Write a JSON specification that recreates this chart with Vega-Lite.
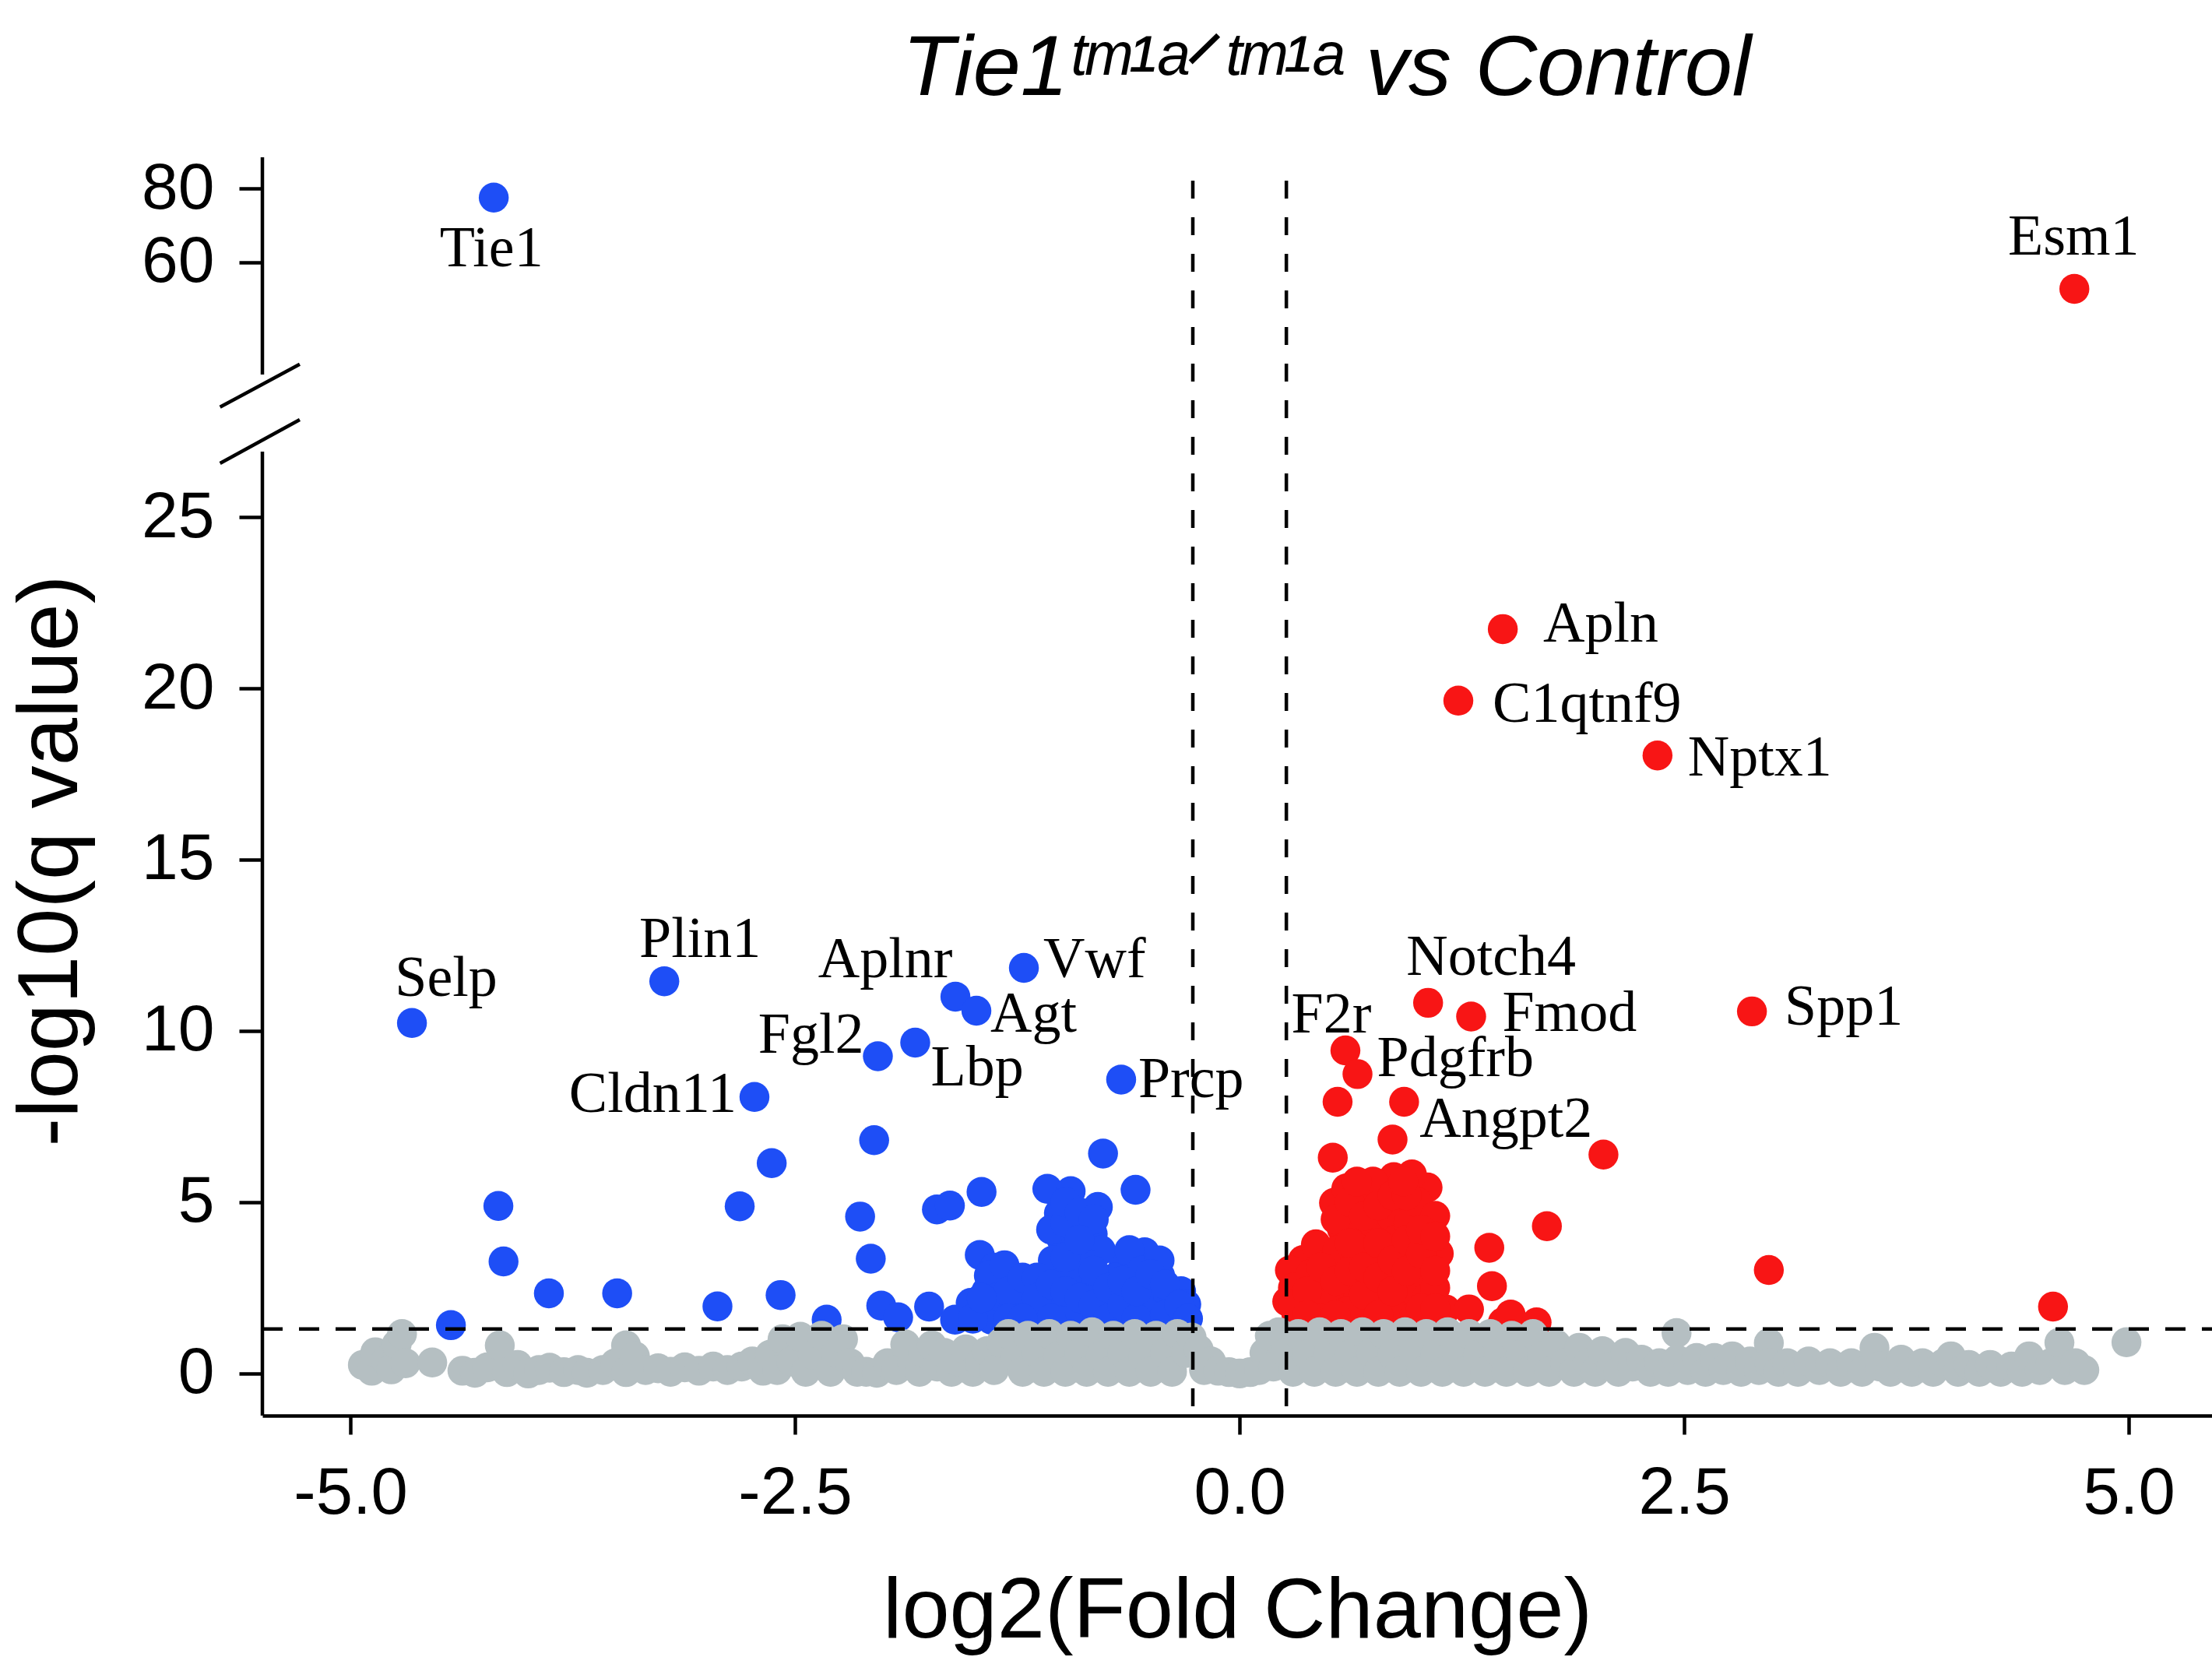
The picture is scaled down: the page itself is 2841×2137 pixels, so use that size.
{
"$schema": "https://vega.github.io/schema/vega-lite/v6.json",
"width": 2504, "height": 1616,
"autosize": {"type": "none"},
"padding": {"left": 337, "top": 202, "right": 0, "bottom": 319},
"background": "white",
"config": {
  "view": {"stroke": null},
  "axis": {"labelFont": "Liberation Sans", "titleFont": "Liberation Sans", "labelColor": "#000", "titleColor": "#000", "tickColor": "#000", "domainColor": "#000", "titleFontWeight": "normal", "labelOverlap": false, "grid": false},
  "text": {"font": "Liberation Serif", "fontSize": 74, "baseline": "middle", "color": "#000"}
},
"title": {"text": "Tie1ᵗᵐ¹ᵃᐟᵗᵐ¹ᵃ vs Control", "font": "Liberation Sans, DejaVu Sans", "fontSize": 110, "fontStyle": "italic", "fontWeight": "normal", "color": "#000", "anchor": "start", "frame": "group", "dx": 822, "dy": 111, "offset": 79, "baseline": "alphabetic"},
"datasets": {"pts": [
{"gene":"Tie1","lfc":-4.194,"nlq":77.6,"status":"down"},
{"gene":"Selp","lfc":-4.654,"nlq":10.23,"status":"down"},
{"gene":"Plin1","lfc":-3.235,"nlq":11.45,"status":"down"},
{"gene":"Aplnr","lfc":-1.598,"nlq":11.0,"status":"down"},
{"gene":"Agt","lfc":-1.48,"nlq":10.59,"status":"down"},
{"gene":"Vwf","lfc":-1.213,"nlq":11.84,"status":"down"},
{"gene":"Fgl2","lfc":-2.034,"nlq":9.26,"status":"down"},
{"gene":"Lbp","lfc":-1.824,"nlq":9.66,"status":"down"},
{"gene":"Cldn11","lfc":-2.728,"nlq":8.07,"status":"down"},
{"gene":"Prcp","lfc":-0.666,"nlq":8.58,"status":"down"},
{"lfc":-4.168,"nlq":4.89,"status":"down"},{"lfc":-4.139,"nlq":3.27,"status":"down"},{"lfc":-3.884,"nlq":2.34,"status":"down"},{"lfc":-3.5,"nlq":2.34,"status":"down"},{"lfc":-4.435,"nlq":1.41,"status":"down"},
{"lfc":-2.055,"nlq":6.81,"status":"down"},{"lfc":-2.631,"nlq":6.14,"status":"down"},{"lfc":-2.811,"nlq":4.88,"status":"down"},{"lfc":-2.134,"nlq":4.58,"status":"down"},{"lfc":-1.702,"nlq":4.79,"status":"down"},{"lfc":-1.629,"nlq":4.9,"status":"down"},{"lfc":-1.451,"nlq":5.3,"status":"down"},{"lfc":-2.074,"nlq":3.35,"status":"down"},{"lfc":-1.461,"nlq":3.46,"status":"down"},{"lfc":-1.38,"nlq":3.09,"status":"down"},{"lfc":-2.936,"nlq":1.96,"status":"down"},{"lfc":-2.581,"nlq":2.29,"status":"down"},{"lfc":-2.322,"nlq":1.57,"status":"down"},{"lfc":-2.015,"nlq":1.98,"status":"down"},{"lfc":-1.92,"nlq":1.64,"status":"down"},{"lfc":-1.746,"nlq":1.95,"status":"down"},{"lfc":-1.6,"nlq":1.57,"status":"down"},{"lfc":-1.512,"nlq":2.06,"status":"down"},{"lfc":-1.424,"nlq":2.4,"status":"down"},{"lfc":-1.395,"nlq":1.57,"status":"down"},{"lfc":-1.41,"nlq":2.86,"status":"down"},{"lfc":-1.35,"nlq":2.25,"status":"down"},
{"lfc":-0.768,"nlq":6.42,"status":"down"},{"lfc":-0.585,"nlq":5.36,"status":"down"},{"lfc":-1.081,"nlq":5.39,"status":"down"},{"lfc":-0.95,"nlq":5.32,"status":"down"},{"lfc":-0.797,"nlq":4.86,"status":"down"},{"lfc":-1.016,"nlq":4.68,"status":"down"},{"lfc":-1.001,"nlq":3.92,"status":"down"},{"lfc":-0.826,"nlq":4.07,"status":"down"},{"lfc":-1.322,"nlq":3.16,"status":"down"},{"lfc":-0.534,"nlq":3.54,"status":"down"},{"lfc":-0.447,"nlq":2.86,"status":"down"},{"lfc":-0.651,"nlq":3.23,"status":"down"},{"lfc":-0.884,"nlq":2.86,"status":"down"},{"lfc":-0.972,"nlq":2.7,"status":"down"},{"lfc":-1.235,"nlq":2.55,"status":"down"},{"lfc":-1.103,"nlq":2.33,"status":"down"},{"lfc":-0.329,"nlq":2.4,"status":"down"},{"lfc":-0.3,"nlq":2.02,"status":"down"},{"lfc":-0.738,"nlq":2.25,"status":"down"},{"lfc":-0.563,"nlq":2.1,"status":"down"},{"lfc":-0.447,"nlq":1.95,"status":"down"},{"lfc":-1.16,"nlq":1.72,"status":"down"},{"lfc":-0.884,"nlq":1.8,"status":"down"},{"lfc":-0.636,"nlq":1.64,"status":"down"},{"lfc":-0.3,"nlq":1.64,"status":"down"},{"lfc":-1.28,"nlq":1.8,"status":"down"},
{"lfc":-1.05,"nlq":3.3,"status":"down"},{"lfc":-0.92,"nlq":3.5,"status":"down"},{"lfc":-0.88,"nlq":4.3,"status":"down"},{"lfc":-0.78,"nlq":3.6,"status":"down"},{"lfc":-0.7,"nlq":2.8,"status":"down"},{"lfc":-0.6,"nlq":2.6,"status":"down"},{"lfc":-0.5,"nlq":2.3,"status":"down"},{"lfc":-0.4,"nlq":2.2,"status":"down"},{"lfc":-0.36,"nlq":1.8,"status":"down"},{"lfc":-1.2,"nlq":2.2,"status":"down"},{"lfc":-1.0,"nlq":2.0,"status":"down"},{"lfc":-0.8,"nlq":2.4,"status":"down"},{"lfc":-0.7,"nlq":1.9,"status":"down"},{"lfc":-0.5,"nlq":1.7,"status":"down"},{"lfc":-1.06,"nlq":4.2,"status":"down"},{"lfc":-0.92,"nlq":4.0,"status":"down"},{"lfc":-0.86,"nlq":3.2,"status":"down"},{"lfc":-0.62,"nlq":3.6,"status":"down"},{"lfc":-0.55,"nlq":3.0,"status":"down"},{"lfc":-0.45,"nlq":3.3,"status":"down"},{"lfc":-1.25,"nlq":2.0,"status":"down"},{"lfc":-0.95,"nlq":1.6,"status":"down"},{"lfc":-0.8,"nlq":1.6,"status":"down"},{"lfc":-0.4,"nlq":1.5,"status":"down"},{"lfc":-1.1,"nlq":1.6,"status":"down"},{"lfc":-1.3,"nlq":2.4,"status":"down"},
{"lfc":-1.5,"nlq":1.6,"status":"down"},{"lfc":-1.45,"nlq":2.2,"status":"down"},{"lfc":-1.3,"nlq":1.6,"status":"down"},{"lfc":-1.22,"nlq":2.8,"status":"down"},{"lfc":-1.14,"nlq":2.8,"status":"down"},{"lfc":-1.14,"nlq":2.2,"status":"down"},{"lfc":-1.06,"nlq":1.6,"status":"down"},{"lfc":-1.06,"nlq":2.6,"status":"down"},{"lfc":-0.98,"nlq":2.4,"status":"down"},{"lfc":-0.98,"nlq":3.4,"status":"down"},{"lfc":-0.98,"nlq":4.4,"status":"down"},{"lfc":-0.98,"nlq":5.0,"status":"down"},{"lfc":-0.9,"nlq":2.2,"status":"down"},{"lfc":-0.9,"nlq":4.7,"status":"down"},{"lfc":-0.82,"nlq":2.0,"status":"down"},{"lfc":-0.82,"nlq":3.0,"status":"down"},{"lfc":-0.82,"nlq":4.5,"status":"down"},{"lfc":-0.74,"nlq":1.6,"status":"down"},{"lfc":-0.74,"nlq":2.5,"status":"down"},{"lfc":-0.66,"nlq":2.0,"status":"down"},{"lfc":-0.66,"nlq":2.7,"status":"down"},{"lfc":-0.58,"nlq":1.6,"status":"down"},{"lfc":-0.58,"nlq":2.4,"status":"down"},{"lfc":-0.5,"nlq":2.9,"status":"down"},{"lfc":-0.42,"nlq":1.7,"status":"down"},{"lfc":-0.42,"nlq":2.6,"status":"down"},{"lfc":-0.34,"nlq":2.0,"status":"down"},{"lfc":-0.29,"nlq":1.6,"status":"down"},{"lfc":-1.22,"nlq":1.6,"status":"down"},{"lfc":-0.9,"nlq":3.9,"status":"down"},
{"gene":"Esm1","lfc":4.694,"nlq":52.69,"status":"up"},
{"gene":"Apln","lfc":1.48,"nlq":21.73,"status":"up"},
{"gene":"C1qtnf9","lfc":1.23,"nlq":19.64,"status":"up"},
{"gene":"Nptx1","lfc":2.35,"nlq":18.04,"status":"up"},
{"gene":"Notch4","lfc":1.06,"nlq":10.82,"status":"up"},
{"gene":"Fmod","lfc":1.302,"nlq":10.42,"status":"up"},
{"gene":"Spp1","lfc":2.881,"nlq":10.57,"status":"up"},
{"gene":"F2r","lfc":0.595,"nlq":9.43,"status":"up"},
{"gene":"Pdgfrb","lfc":0.663,"nlq":8.74,"status":"up"},
{"gene":"Angpt2","lfc":0.925,"nlq":7.93,"status":"up"},
{"lfc":0.551,"nlq":7.93,"status":"up"},{"lfc":0.524,"nlq":6.3,"status":"up"},{"lfc":0.86,"nlq":6.83,"status":"up"},{"lfc":2.046,"nlq":6.39,"status":"up"},{"lfc":1.728,"nlq":4.3,"status":"up"},{"lfc":1.404,"nlq":3.67,"status":"up"},{"lfc":1.419,"nlq":2.55,"status":"up"},{"lfc":2.976,"nlq":3.02,"status":"up"},{"lfc":4.574,"nlq":1.95,"status":"up"},
{"lfc":0.531,"nlq":4.98,"status":"up"},{"lfc":0.356,"nlq":3.31,"status":"up"},{"lfc":0.283,"nlq":3.01,"status":"up"},{"lfc":0.268,"nlq":2.1,"status":"up"},{"lfc":0.429,"nlq":3.77,"status":"up"},{"lfc":0.575,"nlq":4.22,"status":"up"},{"lfc":0.721,"nlq":5.28,"status":"up"},{"lfc":0.473,"nlq":2.7,"status":"up"},{"lfc":0.62,"nlq":2.25,"status":"up"},{"lfc":0.429,"nlq":1.95,"status":"up"},{"lfc":0.721,"nlq":2.7,"status":"up"},{"lfc":1.042,"nlq":3.05,"status":"up"},{"lfc":1.057,"nlq":5.43,"status":"up"},{"lfc":0.969,"nlq":5.81,"status":"up"},{"lfc":0.867,"nlq":5.73,"status":"up"},{"lfc":1.027,"nlq":4.67,"status":"up"},{"lfc":1.071,"nlq":3.99,"status":"up"},{"lfc":0.925,"nlq":2.33,"status":"up"},{"lfc":0.93,"nlq":1.95,"status":"up"},{"lfc":1.159,"nlq":1.87,"status":"up"},{"lfc":1.29,"nlq":1.87,"status":"up"},{"lfc":1.48,"nlq":1.49,"status":"up"},{"lfc":1.524,"nlq":1.72,"status":"up"},{"lfc":1.67,"nlq":1.49,"status":"up"},
{"lfc":0.3,"nlq":2.5,"status":"up"},{"lfc":0.35,"nlq":2.0,"status":"up"},{"lfc":0.4,"nlq":2.9,"status":"up"},{"lfc":0.5,"nlq":3.2,"status":"up"},{"lfc":0.5,"nlq":2.3,"status":"up"},{"lfc":0.55,"nlq":3.6,"status":"up"},{"lfc":0.6,"nlq":1.8,"status":"up"},{"lfc":0.65,"nlq":3.3,"status":"up"},{"lfc":0.65,"nlq":4.5,"status":"up"},{"lfc":0.7,"nlq":3.8,"status":"up"},{"lfc":0.75,"nlq":4.4,"status":"up"},{"lfc":0.78,"nlq":2.2,"status":"up"},{"lfc":0.8,"nlq":5.0,"status":"up"},{"lfc":0.8,"nlq":3.3,"status":"up"},{"lfc":0.85,"nlq":1.9,"status":"up"},{"lfc":0.85,"nlq":4.6,"status":"up"},{"lfc":0.88,"nlq":3.9,"status":"up"},{"lfc":0.9,"nlq":2.8,"status":"up"},{"lfc":0.95,"nlq":3.5,"status":"up"},{"lfc":0.95,"nlq":4.4,"status":"up"},{"lfc":1.0,"nlq":2.6,"status":"up"},{"lfc":1.0,"nlq":5.0,"status":"up"},{"lfc":1.05,"nlq":2.2,"status":"up"},{"lfc":1.08,"nlq":1.7,"status":"up"},{"lfc":0.7,"nlq":1.6,"status":"up"},{"lfc":0.45,"nlq":1.6,"status":"up"},{"lfc":0.32,"nlq":1.7,"status":"up"},{"lfc":0.98,"nlq":1.65,"status":"up"},{"lfc":0.6,"nlq":5.4,"status":"up"},{"lfc":0.75,"nlq":5.6,"status":"up"},{"lfc":1.1,"nlq":4.6,"status":"up"},{"lfc":1.12,"nlq":3.5,"status":"up"},{"lfc":1.1,"nlq":2.5,"status":"up"},
{"lfc":0.3,"nlq":2.0,"status":"up"},{"lfc":0.38,"nlq":2.4,"status":"up"},{"lfc":0.38,"nlq":1.7,"status":"up"},{"lfc":0.46,"nlq":3.1,"status":"up"},{"lfc":0.54,"nlq":1.7,"status":"up"},{"lfc":0.54,"nlq":2.7,"status":"up"},{"lfc":0.54,"nlq":4.5,"status":"up"},{"lfc":0.62,"nlq":3.0,"status":"up"},{"lfc":0.62,"nlq":3.8,"status":"up"},{"lfc":0.62,"nlq":5.0,"status":"up"},{"lfc":0.7,"nlq":2.3,"status":"up"},{"lfc":0.7,"nlq":3.1,"status":"up"},{"lfc":0.7,"nlq":4.6,"status":"up"},{"lfc":0.78,"nlq":1.7,"status":"up"},{"lfc":0.78,"nlq":2.8,"status":"up"},{"lfc":0.78,"nlq":3.8,"status":"up"},{"lfc":0.78,"nlq":4.9,"status":"up"},{"lfc":0.86,"nlq":2.4,"status":"up"},{"lfc":0.86,"nlq":3.3,"status":"up"},{"lfc":0.86,"nlq":5.2,"status":"up"},{"lfc":0.94,"nlq":3.0,"status":"up"},{"lfc":0.94,"nlq":3.9,"status":"up"},{"lfc":0.94,"nlq":5.2,"status":"up"},{"lfc":1.02,"nlq":1.9,"status":"up"},{"lfc":1.02,"nlq":3.5,"status":"up"},{"lfc":1.02,"nlq":4.2,"status":"up"},{"lfc":1.1,"nlq":1.9,"status":"up"},{"lfc":1.1,"nlq":3.0,"status":"up"},{"lfc":1.1,"nlq":4.0,"status":"up"},{"lfc":0.66,"nlq":5.6,"status":"up"},{"lfc":0.92,"nlq":5.6,"status":"up"},
{"lfc":-4.93,"nlq":0.25,"status":"ns"},{"lfc":-4.88,"nlq":0.08,"status":"ns"},{"lfc":-4.86,"nlq":0.62,"status":"ns"},{"lfc":-4.8,"nlq":0.38,"status":"ns"},{"lfc":-4.77,"nlq":0.12,"status":"ns"},{"lfc":-4.74,"nlq":0.85,"status":"ns"},{"lfc":-4.71,"nlq":1.15,"status":"ns"},{"lfc":-4.69,"nlq":0.3,"status":"ns"},{"lfc":-4.54,"nlq":0.32,"status":"ns"},{"lfc":-4.37,"nlq":0.08,"status":"ns"},{"lfc":-4.3,"nlq":0.02,"status":"ns"},{"lfc":-4.23,"nlq":0.18,"status":"ns"},{"lfc":-4.16,"nlq":0.82,"status":"ns"},{"lfc":-4.12,"nlq":0.04,"status":"ns"},{"lfc":-4.06,"nlq":0.25,"status":"ns"},{"lfc":-4.0,"nlq":0.0,"status":"ns"},{"lfc":-3.94,"nlq":0.1,"status":"ns"},{"lfc":-3.88,"nlq":0.17,"status":"ns"},{"lfc":-3.8,"nlq":0.04,"status":"ns"},{"lfc":-3.72,"nlq":0.1,"status":"ns"},{"lfc":-3.67,"nlq":0.02,"status":"ns"},{"lfc":-3.58,"nlq":0.1,"status":"ns"},{"lfc":-3.51,"nlq":0.3,"status":"ns"},{"lfc":-3.45,"nlq":0.82,"status":"ns"},{"lfc":-3.45,"nlq":0.04,"status":"ns"},{"lfc":-3.4,"nlq":0.5,"status":"ns"},{"lfc":-3.34,"nlq":0.1,"status":"ns"},{"lfc":-3.27,"nlq":0.15,"status":"ns"},{"lfc":-3.2,"nlq":0.05,"status":"ns"},{"lfc":-3.12,"nlq":0.18,"status":"ns"},{"lfc":-3.04,"nlq":0.08,"status":"ns"},{"lfc":-2.96,"nlq":0.2,"status":"ns"},{"lfc":-2.88,"nlq":0.1,"status":"ns"},{"lfc":-2.8,"nlq":0.2,"status":"ns"},{"lfc":-2.74,"nlq":0.35,"status":"ns"},{"lfc":-2.68,"nlq":0.08,"status":"ns"},
{"lfc":-2.64,"nlq":0.55,"status":"ns"},{"lfc":-2.6,"nlq":0.1,"status":"ns"},{"lfc":-2.57,"nlq":1.0,"status":"ns"},{"lfc":-2.52,"nlq":0.35,"status":"ns"},{"lfc":-2.47,"nlq":1.07,"status":"ns"},{"lfc":-2.44,"nlq":0.05,"status":"ns"},{"lfc":-2.4,"nlq":0.55,"status":"ns"},{"lfc":-2.35,"nlq":1.1,"status":"ns"},{"lfc":-2.3,"nlq":0.05,"status":"ns"},{"lfc":-2.27,"nlq":0.6,"status":"ns"},{"lfc":-2.23,"nlq":1.0,"status":"ns"},{"lfc":-2.19,"nlq":0.3,"status":"ns"},{"lfc":-2.15,"nlq":0.05,"status":"ns"},{"lfc":-2.1,"nlq":0.05,"status":"ns"},{"lfc":-2.04,"nlq":0.02,"status":"ns"},{"lfc":-1.98,"nlq":0.3,"status":"ns"},{"lfc":-1.93,"nlq":0.1,"status":"ns"},{"lfc":-1.88,"nlq":0.85,"status":"ns"},{"lfc":-1.84,"nlq":0.3,"status":"ns"},{"lfc":-1.8,"nlq":0.05,"status":"ns"},{"lfc":-1.78,"nlq":0.6,"status":"ns"},{"lfc":-1.73,"nlq":0.82,"status":"ns"},{"lfc":-1.7,"nlq":0.2,"status":"ns"},{"lfc":-1.66,"nlq":0.6,"status":"ns"},{"lfc":-1.62,"nlq":0.05,"status":"ns"},{"lfc":-1.58,"nlq":0.35,"status":"ns"},{"lfc":-1.54,"nlq":0.7,"status":"ns"},{"lfc":-1.5,"nlq":0.05,"status":"ns"},{"lfc":-1.46,"nlq":0.3,"status":"ns"},{"lfc":-1.42,"nlq":0.65,"status":"ns"},{"lfc":-1.38,"nlq":0.1,"status":"ns"},
{"lfc":-1.34,"nlq":0.9,"status":"ns"},{"lfc":-1.3,"nlq":1.15,"status":"ns"},{"lfc":-1.26,"nlq":0.5,"status":"ns"},{"lfc":-1.22,"nlq":0.05,"status":"ns"},{"lfc":-1.19,"nlq":1.1,"status":"ns"},{"lfc":-1.14,"nlq":0.6,"status":"ns"},{"lfc":-1.1,"nlq":0.05,"status":"ns"},{"lfc":-1.07,"nlq":1.15,"status":"ns"},{"lfc":-1.02,"nlq":0.5,"status":"ns"},{"lfc":-0.98,"nlq":0.05,"status":"ns"},{"lfc":-0.95,"nlq":1.1,"status":"ns"},{"lfc":-0.9,"nlq":0.6,"status":"ns"},{"lfc":-0.86,"nlq":0.05,"status":"ns"},{"lfc":-0.83,"nlq":1.2,"status":"ns"},{"lfc":-0.78,"nlq":0.5,"status":"ns"},{"lfc":-0.74,"nlq":0.05,"status":"ns"},{"lfc":-0.71,"nlq":1.1,"status":"ns"},{"lfc":-0.66,"nlq":0.6,"status":"ns"},{"lfc":-0.62,"nlq":0.05,"status":"ns"},{"lfc":-0.59,"nlq":1.15,"status":"ns"},{"lfc":-0.54,"nlq":0.5,"status":"ns"},{"lfc":-0.5,"nlq":0.05,"status":"ns"},{"lfc":-0.47,"nlq":1.1,"status":"ns"},{"lfc":-0.42,"nlq":0.6,"status":"ns"},{"lfc":-0.38,"nlq":0.05,"status":"ns"},{"lfc":-0.35,"nlq":1.15,"status":"ns"},{"lfc":-0.3,"nlq":0.6,"status":"ns"},{"lfc":-0.27,"nlq":1.05,"status":"ns"},
{"lfc":-0.23,"nlq":0.7,"status":"ns"},{"lfc":-0.2,"nlq":0.1,"status":"ns"},{"lfc":-0.16,"nlq":0.35,"status":"ns"},{"lfc":-0.12,"nlq":0.08,"status":"ns"},{"lfc":-0.06,"nlq":0.04,"status":"ns"},{"lfc":0.0,"nlq":0.0,"status":"ns"},{"lfc":0.06,"nlq":0.04,"status":"ns"},{"lfc":0.11,"nlq":0.1,"status":"ns"},{"lfc":0.14,"nlq":0.6,"status":"ns"},{"lfc":0.17,"nlq":1.1,"status":"ns"},{"lfc":0.19,"nlq":0.2,"status":"ns"},
{"lfc":0.22,"nlq":1.2,"status":"ns"},{"lfc":0.26,"nlq":0.6,"status":"ns"},{"lfc":0.3,"nlq":0.05,"status":"ns"},{"lfc":0.33,"nlq":1.15,"status":"ns"},{"lfc":0.38,"nlq":0.55,"status":"ns"},{"lfc":0.42,"nlq":0.05,"status":"ns"},{"lfc":0.45,"nlq":1.2,"status":"ns"},{"lfc":0.5,"nlq":0.6,"status":"ns"},{"lfc":0.54,"nlq":0.05,"status":"ns"},{"lfc":0.57,"nlq":1.15,"status":"ns"},{"lfc":0.62,"nlq":0.55,"status":"ns"},{"lfc":0.66,"nlq":0.05,"status":"ns"},{"lfc":0.69,"nlq":1.2,"status":"ns"},{"lfc":0.74,"nlq":0.6,"status":"ns"},{"lfc":0.78,"nlq":0.05,"status":"ns"},{"lfc":0.81,"nlq":1.15,"status":"ns"},{"lfc":0.86,"nlq":0.55,"status":"ns"},{"lfc":0.9,"nlq":0.05,"status":"ns"},{"lfc":0.93,"nlq":1.2,"status":"ns"},{"lfc":0.98,"nlq":0.6,"status":"ns"},{"lfc":1.02,"nlq":0.05,"status":"ns"},{"lfc":1.05,"nlq":1.15,"status":"ns"},{"lfc":1.1,"nlq":0.55,"status":"ns"},{"lfc":1.14,"nlq":0.05,"status":"ns"},{"lfc":1.17,"nlq":1.2,"status":"ns"},{"lfc":1.22,"nlq":0.6,"status":"ns"},{"lfc":1.26,"nlq":0.05,"status":"ns"},{"lfc":1.29,"nlq":1.15,"status":"ns"},{"lfc":1.34,"nlq":0.55,"status":"ns"},{"lfc":1.38,"nlq":0.05,"status":"ns"},{"lfc":1.41,"nlq":1.15,"status":"ns"},{"lfc":1.46,"nlq":0.6,"status":"ns"},{"lfc":1.5,"nlq":0.05,"status":"ns"},{"lfc":1.53,"nlq":1.1,"status":"ns"},{"lfc":1.58,"nlq":0.55,"status":"ns"},{"lfc":1.62,"nlq":0.05,"status":"ns"},{"lfc":1.65,"nlq":1.15,"status":"ns"},{"lfc":1.7,"nlq":0.5,"status":"ns"},{"lfc":1.74,"nlq":0.05,"status":"ns"},
{"lfc":1.78,"nlq":0.85,"status":"ns"},{"lfc":1.83,"nlq":0.3,"status":"ns"},{"lfc":1.88,"nlq":0.05,"status":"ns"},{"lfc":1.91,"nlq":0.75,"status":"ns"},{"lfc":1.96,"nlq":0.3,"status":"ns"},{"lfc":2.0,"nlq":0.05,"status":"ns"},{"lfc":2.04,"nlq":0.65,"status":"ns"},{"lfc":2.09,"nlq":0.2,"status":"ns"},{"lfc":2.13,"nlq":0.05,"status":"ns"},{"lfc":2.17,"nlq":0.6,"status":"ns"},{"lfc":2.21,"nlq":0.2,"status":"ns"},{"lfc":2.26,"nlq":0.4,"status":"ns"},{"lfc":2.31,"nlq":0.05,"status":"ns"},{"lfc":2.36,"nlq":0.3,"status":"ns"},{"lfc":2.41,"nlq":0.05,"status":"ns"},{"lfc":2.457,"nlq":1.18,"status":"ns"},{"lfc":2.46,"nlq":0.4,"status":"ns"},{"lfc":2.52,"nlq":0.1,"status":"ns"},{"lfc":2.57,"nlq":0.45,"status":"ns"},{"lfc":2.62,"nlq":0.05,"status":"ns"},{"lfc":2.67,"nlq":0.45,"status":"ns"},{"lfc":2.72,"nlq":0.1,"status":"ns"},{"lfc":2.77,"nlq":0.5,"status":"ns"},{"lfc":2.82,"nlq":0.05,"status":"ns"},{"lfc":2.87,"nlq":0.35,"status":"ns"},{"lfc":2.92,"nlq":0.1,"status":"ns"},{"lfc":2.976,"nlq":0.89,"status":"ns"},{"lfc":2.98,"nlq":0.3,"status":"ns"},{"lfc":3.03,"nlq":0.05,"status":"ns"},
{"lfc":3.08,"nlq":0.3,"status":"ns"},{"lfc":3.14,"nlq":0.05,"status":"ns"},{"lfc":3.2,"nlq":0.35,"status":"ns"},{"lfc":3.26,"nlq":0.1,"status":"ns"},{"lfc":3.32,"nlq":0.3,"status":"ns"},{"lfc":3.38,"nlq":0.05,"status":"ns"},{"lfc":3.44,"nlq":0.3,"status":"ns"},{"lfc":3.5,"nlq":0.05,"status":"ns"},{"lfc":3.57,"nlq":0.75,"status":"ns"},{"lfc":3.6,"nlq":0.2,"status":"ns"},{"lfc":3.66,"nlq":0.05,"status":"ns"},{"lfc":3.72,"nlq":0.4,"status":"ns"},{"lfc":3.78,"nlq":0.05,"status":"ns"},{"lfc":3.84,"nlq":0.3,"status":"ns"},{"lfc":3.9,"nlq":0.05,"status":"ns"},{"lfc":3.96,"nlq":0.3,"status":"ns"},{"lfc":4.0,"nlq":0.5,"status":"ns"},{"lfc":4.04,"nlq":0.05,"status":"ns"},{"lfc":4.1,"nlq":0.25,"status":"ns"},{"lfc":4.16,"nlq":0.05,"status":"ns"},{"lfc":4.22,"nlq":0.25,"status":"ns"},{"lfc":4.28,"nlq":0.05,"status":"ns"},{"lfc":4.34,"nlq":0.2,"status":"ns"},{"lfc":4.4,"nlq":0.05,"status":"ns"},{"lfc":4.44,"nlq":0.5,"status":"ns"},{"lfc":4.5,"nlq":0.1,"status":"ns"},{"lfc":4.56,"nlq":0.3,"status":"ns"},{"lfc":4.61,"nlq":0.9,"status":"ns"},{"lfc":4.64,"nlq":0.1,"status":"ns"},{"lfc":4.7,"nlq":0.3,"status":"ns"},{"lfc":4.75,"nlq":0.1,"status":"ns"},{"lfc":4.987,"nlq":0.91,"status":"ns"}
]},
"data": {"name": "pts"},
"layer": [
  {"transform": [{"filter": "datum.status === 'down'"}],
   "mark": {"type": "circle", "size": 1480, "opacity": 1, "color": "#1E4EF6"},
   "encoding": {
     "x": {"field": "lfc", "type": "quantitative", "scale": {"domain": [-5.495, 5.468], "nice": false, "zero": false},
           "axis": {"values": [-5, -2.5, 0, 2.5, 5], "format": ".1f", "labelExpr": "replace(datum.label, '−', '-')", "title": "log2(Fold Change)", "tickSize": 24, "tickWidth": 4.5, "domainWidth": 4.5, "labelPadding": 34, "labelFontSize": 85, "titleFontSize": 110, "titlePadding": 55, "labelFlush": false}},
     "y": {"field": "nlq", "type": "quantitative", "scale": {"domain": [-1.23, 26.91, 29.3, 88.6], "range": [1616, 378, 279, 0], "nice": false, "zero": false},
           "axis": {"values": [0, 5, 10, 15, 20, 25, 60, 80], "format": "d", "title": "-log10(q value)", "domain": false, "tickSize": 30, "tickWidth": 4.5, "labelPadding": 32, "labelFontSize": 84, "titleFontSize": 110, "titlePadding": 60, "titleY": 903, "labelFlush": false}}
   }},
  {"transform": [{"filter": "datum.status === 'up'"}],
   "mark": {"type": "circle", "size": 1480, "opacity": 1, "color": "#F81515"},
   "encoding": {"x": {"field": "lfc", "type": "quantitative"}, "y": {"field": "nlq", "type": "quantitative"}}},
  {"transform": [{"filter": "datum.status === 'ns'"}],
   "mark": {"type": "circle", "size": 1480, "opacity": 1, "color": "#B5BFC2"},
   "encoding": {"x": {"field": "lfc", "type": "quantitative"}, "y": {"field": "nlq", "type": "quantitative"}}},
  {"data": {"values": [{"v": -0.263}, {"v": 0.263}]},
   "mark": {"type": "rule", "strokeDash": [23, 24], "strokeWidth": 4.5, "color": "#000"},
   "encoding": {"x": {"field": "v", "type": "quantitative"}, "y": {"datum": -0.955, "type": "quantitative"}, "y2": {"datum": 85.2}}},
  {"data": {"values": [{"t": 1.301}]},
   "mark": {"type": "rule", "strokeDash": [26, 21], "strokeWidth": 4.5, "color": "#000"},
   "encoding": {"y": {"field": "t", "type": "quantitative"}, "x": {"datum": -5.495, "type": "quantitative"}, "x2": {"datum": 5.468}}},
  {"data": {"values": [{"a": -1.23, "b": 26.91}, {"a": 29.3, "b": 88.6}]},
   "mark": {"type": "rule", "strokeWidth": 4.5, "color": "#000"},
   "encoding": {"x": {"datum": -5.495, "type": "quantitative"}, "y": {"field": "a", "type": "quantitative"}, "y2": {"field": "b"}}},
  {"data": {"values": [{"x0": -5.733, "x1": -5.285, "y0": 28.29, "y1": 32.13}, {"x0": -5.733, "x1": -5.285, "y0": 26.57, "y1": 27.9}]},
   "mark": {"type": "rule", "strokeWidth": 4.5, "color": "#000"},
   "encoding": {"x": {"field": "x0", "type": "quantitative"}, "x2": {"field": "x1"}, "y": {"field": "y0", "type": "quantitative"}, "y2": {"field": "y1"}}},
  {"encoding": {"x": {"field": "lfc", "type": "quantitative"}, "y": {"field": "nlq", "type": "quantitative"}, "text": {"field": "gene"}},
   "layer": [
     {"transform": [{"filter": "datum.gene === 'Tie1'"}], "mark": {"type": "text", "align": "center", "dx": -3, "dy": 66}},
     {"transform": [{"filter": "datum.gene === 'Esm1'"}], "mark": {"type": "text", "align": "center", "dx": -1, "dy": -66}},
     {"transform": [{"filter": "datum.gene === 'Selp'"}], "mark": {"type": "text", "align": "center", "dx": 44, "dy": -57}},
     {"transform": [{"filter": "datum.gene === 'Plin1'"}], "mark": {"type": "text", "align": "center", "dx": 46, "dy": -53}},
     {"transform": [{"filter": "datum.gene === 'Aplnr'"}], "mark": {"type": "text", "align": "center", "dx": -90, "dy": -47}},
     {"transform": [{"filter": "datum.gene === 'Vwf'"}], "mark": {"type": "text", "align": "left", "dx": 25, "dy": -10}},
     {"transform": [{"filter": "datum.gene === 'Agt'"}], "mark": {"type": "text", "align": "left", "dx": 18, "dy": 5}},
     {"transform": [{"filter": "datum.gene === 'Fgl2'"}], "mark": {"type": "text", "align": "right", "dx": -18, "dy": -26}},
     {"transform": [{"filter": "datum.gene === 'Lbp'"}], "mark": {"type": "text", "align": "left", "dx": 20, "dy": 33}},
     {"transform": [{"filter": "datum.gene === 'Cldn11'"}], "mark": {"type": "text", "align": "right", "dx": -23, "dy": -3}},
     {"transform": [{"filter": "datum.gene === 'Prcp'"}], "mark": {"type": "text", "align": "left", "dx": 22, "dy": 1}},
     {"transform": [{"filter": "datum.gene === 'Apln'"}], "mark": {"type": "text", "align": "left", "dx": 52, "dy": -6}},
     {"transform": [{"filter": "datum.gene === 'C1qtnf9'"}], "mark": {"type": "text", "align": "left", "dx": 44, "dy": 5}},
     {"transform": [{"filter": "datum.gene === 'Nptx1'"}], "mark": {"type": "text", "align": "left", "dx": 39, "dy": 4}},
     {"transform": [{"filter": "datum.gene === 'Notch4'"}], "mark": {"type": "text", "align": "center", "dx": 81, "dy": -58}},
     {"transform": [{"filter": "datum.gene === 'Fmod'"}], "mark": {"type": "text", "align": "left", "dx": 40, "dy": -3}},
     {"transform": [{"filter": "datum.gene === 'Spp1'"}], "mark": {"type": "text", "align": "left", "dx": 42, "dy": -5}},
     {"transform": [{"filter": "datum.gene === 'F2r'"}], "mark": {"type": "text", "align": "center", "dx": -18, "dy": -45}},
     {"transform": [{"filter": "datum.gene === 'Pdgfrb'"}], "mark": {"type": "text", "align": "left", "dx": 25, "dy": -19}},
     {"transform": [{"filter": "datum.gene === 'Angpt2'"}], "mark": {"type": "text", "align": "left", "dx": 20, "dy": 23}}
   ]}
]
}
